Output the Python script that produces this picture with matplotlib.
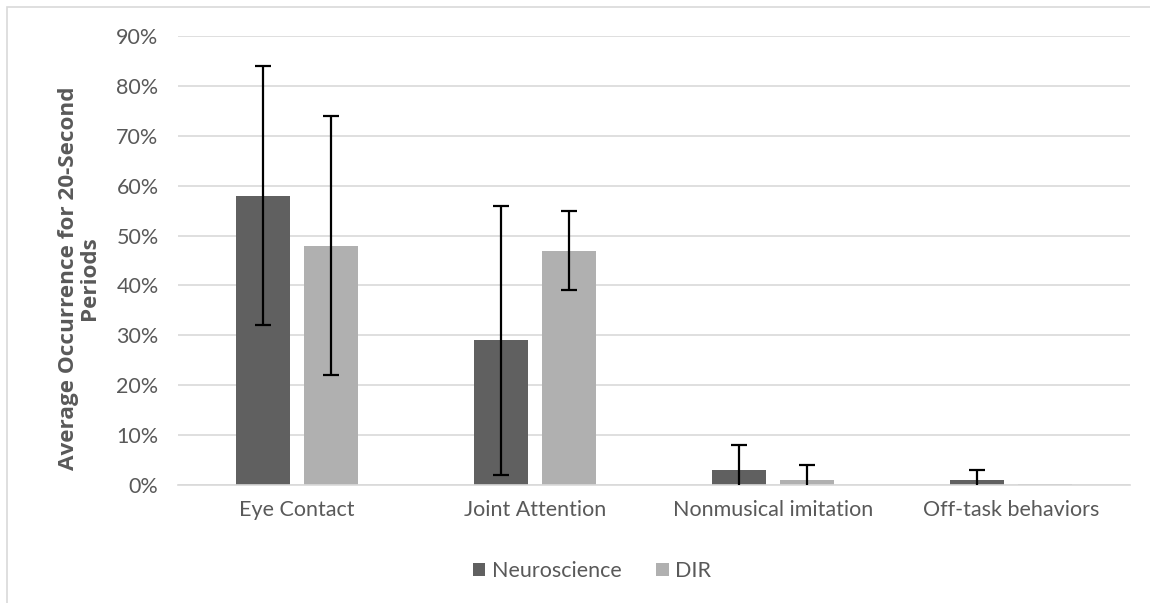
import matplotlib.pyplot as plt
import numpy as np
from matplotlib.patches import Rectangle

categories = ["Eye Contact", "Joint Attention", "Nonmusical imitation", "Off-task behaviors"]
neuro = [58, 29, 3, 1]
neuro_err = [26, 27, 5, 2]
dir_vals = [48, 47, 1, 0.2]
dir_err = [26, 8, 3, 0]
yticks = [0, 10, 20, 30, 40, 50, 60, 70, 80, 90]

plt.rcParams['font.family'] = ['Lato', 'DejaVu Sans']
text_color = "#595959"

fig = plt.figure(figsize=(11.5, 6.03), dpi=100)
ax = fig.add_axes([178 / 1150, 118 / 603, 952 / 1150, 449 / 603])

x = np.arange(len(categories))
w = 0.227
off = 0.143
err_style = dict(fmt="none", ecolor="black", elinewidth=1.6, capsize=5.5,
                 capthick=1.6, zorder=3)

ax.bar(x - off, neuro, w, color="#606060", label="Neuroscience", zorder=2)
ax.bar(x + off, dir_vals, w, color="#b0b0b0", label="DIR", zorder=2)

# error bars only where there is a spread
for xs, vals, errs in [(x - off, neuro, neuro_err), (x + off, dir_vals, dir_err)]:
    keep = [i for i, e in enumerate(errs) if e > 0]
    ax.errorbar(xs[keep], np.array(vals)[keep], yerr=np.array(errs)[keep], **err_style)

ax.set_xlim(-0.5, len(categories) - 0.5)
ax.set_ylim(0, 90)
ax.set_yticks(yticks)
ax.set_yticklabels([f"{t}%" for t in yticks])
ax.set_xticks(x)
ax.set_xticklabels(categories)
ax.grid(axis="y", color="#d9d9d9", linewidth=1.2, zorder=0)
ax.set_axisbelow(True)
for s in ["top", "right", "left"]:
    ax.spines[s].set_visible(False)
ax.spines["bottom"].set_color("#d9d9d9")
ax.spines["bottom"].set_linewidth(1.2)
ax.tick_params(axis="both", length=0, colors=text_color, labelsize=15.5)
ax.tick_params(axis="y", pad=14)
ax.tick_params(axis="x", pad=11)

ax.set_ylabel("Average Occurrence for 20-Second\nPeriods", fontsize=16.2,
              family=["Open Sans", "DejaVu Sans"], fontweight="bold",
              color=text_color, linespacing=1.0)
ax.yaxis.set_label_coords(-0.082, 0.46)

leg = fig.legend(loc="center", bbox_to_anchor=(592 / 1150, 1 - 571 / 603), ncol=2,
                 frameon=False, fontsize=15.5, handlelength=0.6, handleheight=0.6,
                 handletextpad=0.3, columnspacing=1.6)
for t in leg.get_texts():
    t.set_color(text_color)

# chart border
fig.patches.append(Rectangle((7 / 1150, -0.1), 1.2, 1 - 7 / 603 + 0.1,
                             transform=fig.transFigure, fill=False,
                             edgecolor="#d9d9d9", linewidth=1.2))

fig.savefig("out.png", dpi=100)
